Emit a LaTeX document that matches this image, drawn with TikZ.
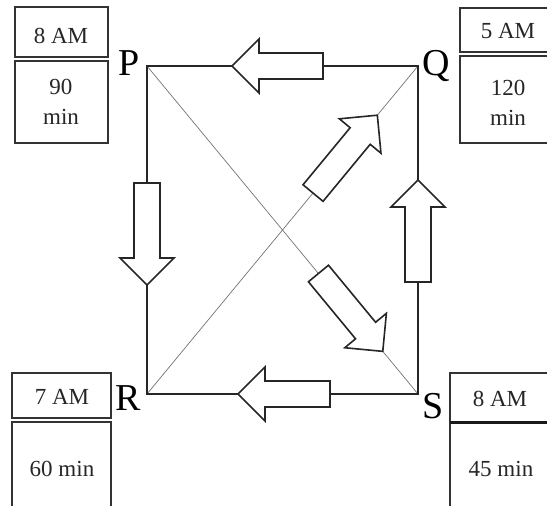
\documentclass[tikz,border=0pt]{standalone}
\usepackage{fontspec}
\setmainfont{Liberation Serif}
\usetikzlibrary{calc}
\tikzset{
  edge/.style={draw=black!85, line width=1.1pt},
  diag/.style={draw=black!55, line width=0.7pt},
  arrowbody/.style={draw=black!85, fill=white, line width=1.6pt, line join=miter},
  boxline/.style={draw=black!80, line width=1.3pt},
  sepline/.style={draw=black!90, line width=3pt},
  timetext/.style={font=\fontsize{23}{30}\selectfont, align=center, inner sep=0pt, text=black!85},
  cornerlabel/.style={font=\fontsize{38}{40}\selectfont, anchor=base, inner sep=0pt},
  pics/blockarrow/.style={code={
    \draw[arrowbody] (0,0) -- (-27,27) -- (-27,13) -- (-#1,13) -- (-#1,-13)
      -- (-27,-13) -- (-27,-27) -- cycle;}}
}
\begin{document}
\begin{tikzpicture}[x=1pt,y=-1pt]
\useasboundingbox (0,0) rectangle (547,506);
\clip (0,0) rectangle (547,506);
% corners
\coordinate (P) at (147,66);
\coordinate (Q) at (418,66);
\coordinate (R) at (147,394);
\coordinate (S) at (418,394);
% diagonals and edges
\draw[diag] (P) -- (S);
\draw[diag] (Q) -- (R);
\draw[edge] (P) -- (Q) -- (S) -- (R) -- cycle;
% block arrows
\pic (atop) at (232,66) [rotate=180] {blockarrow=91};
\pic (abot) at (238,394) [rotate=180] {blockarrow=92};
\pic (aleft) at (147,285) [rotate=-90] {blockarrow=102};
\pic (aright) at (418,180) [rotate=90] {blockarrow=102};
\pic (aru) at ($(R)!0.85!(Q)$) [rotate=50.44] {blockarrow=101};
\pic (ard) at ($(P)!0.87!(S)$) [rotate=-50.44] {blockarrow=101};
% corner labels
\node[cornerlabel] (lP) at (129,75) {P};
\node[cornerlabel] (lQ) at (436,75) {Q};
\node[cornerlabel] (lR) at (128,410) {R};
\node[cornerlabel] (lS) at (433,418) {S};
% boxes top-left
\draw[boxline] (15,7) rectangle (108,57);
\draw[boxline] (15,61) rectangle (108,143);
\node[timetext] (tlA) at (61,36) {8 AM};
\node[timetext] (tlB) at (61,102) {90\\min};
% boxes top-right
\draw[boxline] (460,8) rectangle (556,52);
\draw[boxline] (460,56) rectangle (556,143);
\node[timetext] (trA) at (508,31) {5 AM};
\node[timetext] (trB) at (508,103) {120\\min};
% boxes bottom-left
\draw[boxline] (12,373) rectangle (111,418);
\draw[boxline] (12,422) rectangle (111,520);
\node[timetext] (blA) at (62,397) {7 AM};
\node[timetext] (blB) at (62,469) {60 min};
% boxes bottom-right
\draw[boxline] (450,373) rectangle (556,422);
\draw[boxline] (450,422) rectangle (556,520);
\draw[sepline] (450,422) -- (556,422);
\node[timetext] (brA) at (500,399) {8 AM};
\node[timetext] (brB) at (501,469) {45 min};
\end{tikzpicture}
\end{document}
